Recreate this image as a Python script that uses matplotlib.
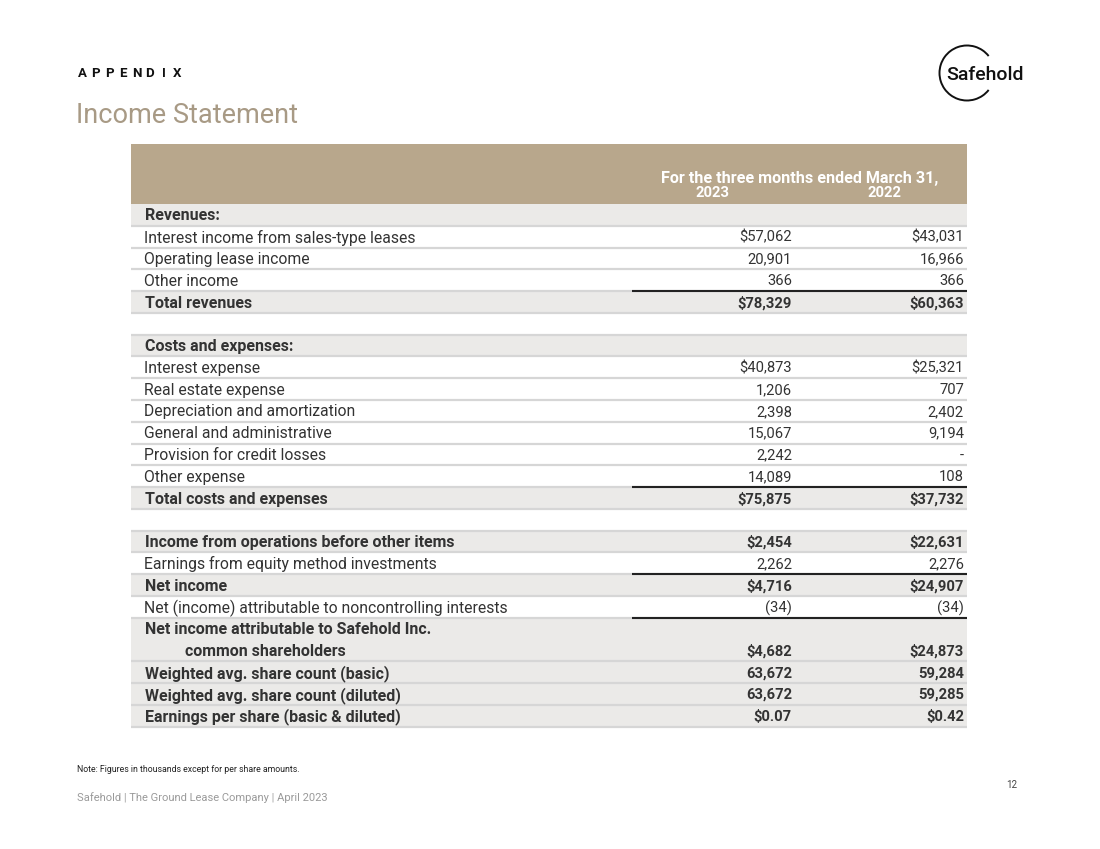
import matplotlib
matplotlib.use("Agg")
import matplotlib.pyplot as plt
from matplotlib.patches import Rectangle, Arc

plt.rcParams['font.family'] = ['Roboto', 'DejaVu Sans']

# ---------------- data ----------------
labels = [
    "Revenues:",
    "Interest income from sales-type leases",
    "Operating lease income",
    "Other income",
    "Total revenues",
    "",
    "Costs and expenses:",
    "Interest expense",
    "Real estate expense",
    "Depreciation and amortization",
    "General and administrative",
    "Provision for credit losses",
    "Other expense",
    "Total costs and expenses",
    "",
    "Income from operations before other items",
    "Earnings from equity method investments",
    "Net income",
    "Net (income) attributable to noncontrolling interests",
    "Net income attributable to Safehold Inc.\n        common shareholders",
    "Weighted avg. share count (basic)",
    "Weighted avg. share count (diluted)",
    "Earnings per share (basic & diluted)",
]
vals_2023 = ["", "$57,062", "20,901", "366", "$78,329", "", "",
             "$40,873", "1,206", "2,398", "15,067", "2,242", "14,089", "$75,875", "",
             "$2,454", "2,262", "$4,716", "(34)", "$4,682", "63,672", "63,672", "$0.07"]
vals_2022 = ["", "$43,031", "16,966", "366", "$60,363", "", "",
             "$25,321", "707", "2,402", "9,194", "-", "108", "$37,732", "",
             "$22,631", "2,276", "$24,907", "(34)", "$24,873", "59,284", "59,285", "$0.42"]
bold = [1, 0, 0, 0, 1, 0, 1, 0, 0, 0, 0, 0, 0, 1, 0, 1, 0, 1, 0, 1, 1, 1, 1]
shaded = [1, 0, 0, 0, 1, 0, 1, 0, 0, 0, 0, 0, 0, 1, 0, 1, 0, 1, 0, 1, 1, 1, 1]
row_units = [1] * 19 + [2] + [1] * 3
rule_above = [4, 13, 17, 19]   # rows with a black total rule on top
header_title = "For the three months ended March 31,"
years = ["2023", "2022"]

# ---------------- layout ----------------
W, H = 1100, 849
fig = plt.figure(figsize=(W / 100, H / 100), dpi=100)
ax = fig.add_axes([0, 0, 1, 1])
ax.set_xlim(0, W)
ax.set_ylim(H, 0)
ax.axis('off')

TAN = '#b8a78c'
GRAY = '#ebeae8'
SEP = '#d6d6d6'
TXT = '#333333'

x0, x1 = 131, 967
rule_x0 = 632
col23_r, col22_r = 792, 964
label_x = 145
hdr_top, hdr_bot = 144, 204
unit = 21.78
FS_REG = 11.3
FS_BOLD = 11.5
FS_VAL = 10.6

# header band
ax.add_patch(Rectangle((x0, hdr_top), x1 - x0, hdr_bot - hdr_top, fc=TAN, ec='none'))
ax.text(800, 178, header_title, ha='center', va='center', color='white',
        fontsize=11.6, fontweight='bold')
ax.text(712, 193, years[0], ha='center', va='center', color='white',
        fontsize=10.6, fontweight='bold')
ax.text(885, 193, years[1], ha='center', va='center', color='white',
        fontsize=10.6, fontweight='bold')

# rows
y = hdr_bot
tops = []
for i, lab in enumerate(labels):
    h = row_units[i] * unit
    tops.append(y)
    if shaded[i]:
        ax.add_patch(Rectangle((x0, y), x1 - x0, h, fc=GRAY, ec='none'))
    ax.plot([x0, x1], [y + h, y + h], color=SEP, lw=1.6, solid_capstyle='butt')
    fw = 'bold' if bold[i] else 'normal'
    fs = FS_BOLD if bold[i] else FS_REG
    if lab:
        if '\n' in lab:
            l1, l2 = lab.split('\n')
            ax.text(label_x, y + unit * 0.5 + 1, l1, ha='left', va='center',
                    color=TXT, fontsize=fs, fontweight=fw)
            ax.text(label_x + 40, y + unit * 1.5 + 1, l2.strip(), ha='left', va='center',
                    color=TXT, fontsize=fs, fontweight=fw)
        else:
            ax.text(label_x if bold[i] else label_x - 1, y + h / 2 + 1, lab,
                    ha='left', va='center', color=TXT, fontsize=fs, fontweight=fw)
    vy = y + h - unit / 2 + 1
    if vals_2023[i]:
        ax.text(col23_r, vy, vals_2023[i], ha='right', va='center', color=TXT,
                fontsize=FS_VAL, fontweight=fw)
    if vals_2022[i]:
        ax.text(col22_r, vy, vals_2022[i], ha='right', va='center', color=TXT,
                fontsize=FS_VAL, fontweight=fw)
    y += h

for r in rule_above:
    ax.plot([rule_x0, x1], [tops[r], tops[r]], color='#222222', lw=1.5,
            solid_capstyle='butt', zorder=5)

# titles
for k, ch in enumerate("APPENDIX"):
    ax.text(82 + k * 13.6, 73, ch, ha='center', va='center', color='#111111',
            fontsize=9.5, fontweight='bold')
ax.text(76, 115, "Income Statement", ha='left', va='center', color='#a89a85',
        fontsize=19.5, fontweight='normal')

# logo
ax.add_patch(Arc((967, 73), 55, 55, theta1=38, theta2=322, color='#111111', lw=1.4))
ax.text(985, 75, "Safehold", ha='center', va='center', color='#111111',
        fontsize=14, fontweight='medium')

# footer
ax.text(77, 769, "Note: Figures in thousands except for per share amounts.",
        ha='left', va='center', color='#222222', fontsize=6.3)
ax.text(77, 798, "Safehold | The Ground Lease Company | April 2023",
        ha='left', va='center', color='#9a9a9a', fontsize=8.0)
ax.text(1012, 785, "12", ha='center', va='center', color='#444444', fontsize=7)

fig.savefig("out.png", dpi=100)
